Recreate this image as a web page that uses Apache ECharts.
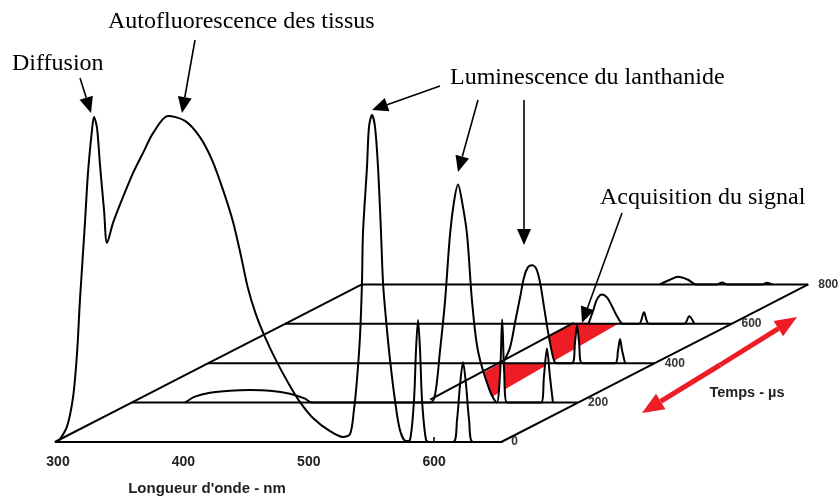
<!DOCTYPE html>
<html>
<head>
<meta charset="utf-8">
<script src="https://cdn.jsdelivr.net/npm/echarts@6/dist/echarts.min.js"></script>
<style>
  html, body { margin: 0; padding: 0; background: #fff; }
  #chart { width: 840px; height: 497px; }
</style>
</head>
<body>
<div id="chart"></div>
<script>
// time slices (µs) and the spectrum read on each one: [wavelength nm, intensity]
const timeSlices = [0, 200, 400, 600, 800];
const spectrumT0 = [
  [300, 0], [307, 4.5], [312, 13.6], [315.2, 27], [317.5, 43], [321.5, 66.4], [323.9, 81.5],
  [327.1, 94.5], [328.7, 98.5], [331.1, 95.2], [333.5, 83.9], [336.7, 70.3], [339.1, 60.3],
  [343.9, 66.4], [351.8, 74.2], [359.8, 81.5], [367.8, 87.6], [375.8, 93.6], [387.7, 98.8],
  [401.3, 97.3], [413.2, 92.4], [422.8, 85.5], [431.6, 76.4], [439.6, 66.7], [445.9, 56.4],
  [451.5, 46.6], [457.9, 38.6], [465.1, 31.8], [474.6, 24.2], [485, 17], [493, 12.1],
  [503.3, 7.3], [516.9, 3.3], [527.3, 1.5], [532.9, 2.4], [536, 9.7], [538.4, 18.8],
  [540.8, 31.8], [542.4, 48.2], [543.2, 63.3], [546.4, 83.3], [548, 95.5], [550.4, 99.1],
  [552.8, 95.5], [555.2, 83.3], [557.6, 63.3], [559.2, 48.2], [561.6, 37], [564.8, 24.8],
  [568.7, 12.7], [572.7, 3.6], [577.5, 0.3], [580.7, 0.6], [583.9, 12.7], [585.5, 27.9],
  [587.1, 37], [588.7, 27.9], [590.3, 12.7], [593.5, 0.6], [596.7, 0], [615, 0],
  [618.2, 6.7], [620.6, 17.3], [623, 24.2], [625.4, 17.3], [627.8, 6.7], [631, 0], [654, 0]
];
const spectrumT200 = [
  [340.1, 0], [348, 1.8], [360, 3], [375.9, 3.6], [391.9, 3.8], [407.8, 3.6], [423.8, 2.7],
  [435.8, 1.2], [441.3, 0], [535.5, 0], [539.5, 2.4], [543.4, 15.5], [547.4, 30.6],
  [551.4, 50.9], [554.6, 60.9], [557.8, 66.1], [561, 60.9], [565, 50.9], [569, 30.6],
  [573.8, 15.5], [583.4, 3.3], [588.6, 0], [591.4, 9.4], [593, 25.2], [594.6, 9.4],
  [597, 0], [623.9, 0], [626.3, 7.9], [628.7, 16.4], [631.1, 7.9], [633.5, 0]
];
const spectrumT400 = [
  [532.5, 0], [538.1, 4.8], [542.1, 12.4], [546.1, 20], [549.3, 26.1], [552.4, 29.1],
  [555.6, 29.7], [558.8, 28.8], [562, 24.5], [565.2, 17], [568.4, 9.4], [572.4, 1.8],
  [574.8, 0], [587.5, 0], [589.9, 6.4], [591.5, 11.5], [593.1, 6.4], [595.5, 0],
  [621.8, 0], [624.2, 3.9], [625.8, 7.3], [627.4, 3.9], [629.8, 0]
];
const spectrumT600 = [
  [539.4, 0], [543, 3.8], [546.2, 7.4], [550.2, 8.9], [554.2, 8], [558.2, 5.3], [562.2, 2.3],
  [567, 0], [579.7, 0], [583.7, 3.5], [587.7, 0], [615.8, 0], [619.8, 2.3], [623.8, 0]
];
const spectrumT800 = [
  [535.2, 0], [543.2, 1.4], [549.6, 2.3], [557.6, 1.4], [564, 0], [580.7, 0], [584.7, 0.6],
  [588.7, 0], [616.6, 0], [620.6, 0.5], [624.6, 0]
];
const spectra = [spectrumT0, spectrumT200, spectrumT400, spectrumT600, spectrumT800];

const floorStart = 297.5;
const floorEnd = 653.5;
const waveTicks = [350, 400, 450, 500, 550, 600];
const waveLabels = [300, 400, 500, 600];
// acquisition window on the floor: [wavelength, time]
const acquisitionWindow = [[535, 200], [577, 200], [563, 605], [526, 605]];
const acquisitionEdge = [[531, 215], [526, 605]];

// oblique projection of the time axis
const nmPerUs = 0.306;
const liftPerUs = 0.0597;
function project(lambda, t, value) {
  return [lambda + t * nmPerUs, value + t * liftPerUs];
}

const RED = '#ee1c24';
const INK = '#000';
const SMOOTH = 0.3;

const series = [];

series.push({
  type: 'custom',
  coordinateSystem: 'cartesian2d',
  z: 1,
  silent: true,
  data: [0],
  renderItem: function (params, api) {
    return {
      type: 'polygon',
      shape: { points: acquisitionWindow.map(p => api.coord(project(p[0], p[1], 0))) },
      style: { fill: RED }
    };
  }
});

timeSlices.forEach(function (t, k) {
  // white fill under each curve, down to its own floor line
  series.push({
    type: 'line', data: spectra[k].map(p => project(p[0], t, p[1])), smooth: SMOOTH,
    symbol: 'none', z: 2,
    lineStyle: { width: 0, opacity: 0 },
    areaStyle: { color: '#fff', opacity: 1, origin: t * liftPerUs }
  });
});

timeSlices.forEach(function (t, k) {
  series.push({
    type: 'line', symbol: 'none', z: 3,
    data: [project(floorStart, t, 0), project(floorEnd, t, 0)],
    lineStyle: { color: INK, width: 2 },
    endLabel: {
      show: true, formatter: String(t), distance: 10,
      color: '#333', fontWeight: 'bold', fontSize: 12, fontFamily: 'Liberation Sans'
    }
  });
  series.push({
    type: 'line', symbol: 'none', z: 4, smooth: SMOOTH,
    data: spectra[k].map(p => project(p[0], t, p[1])),
    lineStyle: { color: INK, width: 2 }
  });
});

series.push({
  type: 'line', symbol: 'none', z: 3,
  data: timeSlices.map(t => project(floorStart, t, 0)),
  lineStyle: { color: INK, width: 2 }
});
series.push({
  type: 'line', symbol: 'none', z: 3,
  data: timeSlices.map(t => project(floorEnd, t, 0)),
  lineStyle: { color: INK, width: 2 }
});
series.push({
  type: 'line', symbol: 'none', z: 3,
  data: acquisitionEdge.map(p => project(p[0], p[1], 0)),
  lineStyle: { color: INK, width: 2 }
});

function arrow(x1, y1, x2, y2, color, width, head, half) {
  const len = Math.hypot(x2 - x1, y2 - y1);
  const ux = (x2 - x1) / len, uy = (y2 - y1) / len;
  const bx = x2 - ux * head, by = y2 - uy * head;
  return [
    { type: 'line', shape: { x1: x1, y1: y1, x2: bx, y2: by }, style: { stroke: color, lineWidth: width } },
    { type: 'polygon', shape: { points: [[x2, y2], [bx - uy * half, by + ux * half], [bx + uy * half, by - ux * half]] },
      style: { fill: color } }
  ];
}

function label(text, x, y, font) {
  return { type: 'text', x: x, y: y, style: { text: text, font: font, fill: INK, verticalAlign: 'middle' } };
}

const serif = '24px "Liberation Serif"';
const graphic = [
  label('Diffusion', 12, 64, serif),
  label('Autofluorescence des tissus', 108, 22, serif),
  label('Luminescence du lanthanide', 450, 78, serif),
  label('Acquisition du signal', 600, 198, serif),
  { type: 'text', x: 207, y: 489, style: { text: "Longueur d'onde - nm", font: 'bold 15px "Liberation Sans"',
    fill: '#222', align: 'center', verticalAlign: 'middle' } },
  { type: 'text', x: 747, y: 393, style: { text: 'Temps - µs', font: 'bold 14.5px "Liberation Sans"',
    fill: '#222', align: 'center', verticalAlign: 'middle' } }
]
  .concat(arrow(80, 78, 91, 113, INK, 1.6, 16, 7))
  .concat(arrow(195, 40, 182, 113, INK, 1.6, 16, 7))
  .concat(arrow(440, 86, 372, 110, INK, 1.6, 16, 7))
  .concat(arrow(478, 100, 458, 172, INK, 1.6, 16, 7))
  .concat(arrow(524, 100, 524, 245, INK, 1.6, 16, 7))
  .concat(arrow(622, 213, 582, 323, INK, 1.6, 16, 7))
  .concat(arrow(720, 365, 642, 413, RED, 5, 22, 9))
  .concat(arrow(720, 365, 797, 317, RED, 5, 22, 9));

const chart = echarts.init(document.getElementById('chart'));
chart.setOption({
  animation: false,
  backgroundColor: '#fff',
  grid: { left: 32.92, right: 4.52, top: 112, bottom: 55, containLabel: false, outerBoundsMode: 'none' },
  xAxis: {
    type: 'value', min: 280, max: 920,
    axisLine: { show: false },
    splitLine: { show: false },
    axisTick: { show: true, inside: true, length: 5, lineStyle: { color: INK, width: 1.5 }, customValues: waveTicks },
    axisLabel: { customValues: waveLabels, margin: 13, color: '#222', fontWeight: 'bold', fontSize: 14,
      fontFamily: 'Liberation Sans' }
  },
  yAxis: { type: 'value', min: 0, max: 100, show: false },
  series: series,
  graphic: graphic
});
</script>
</body>
</html>
